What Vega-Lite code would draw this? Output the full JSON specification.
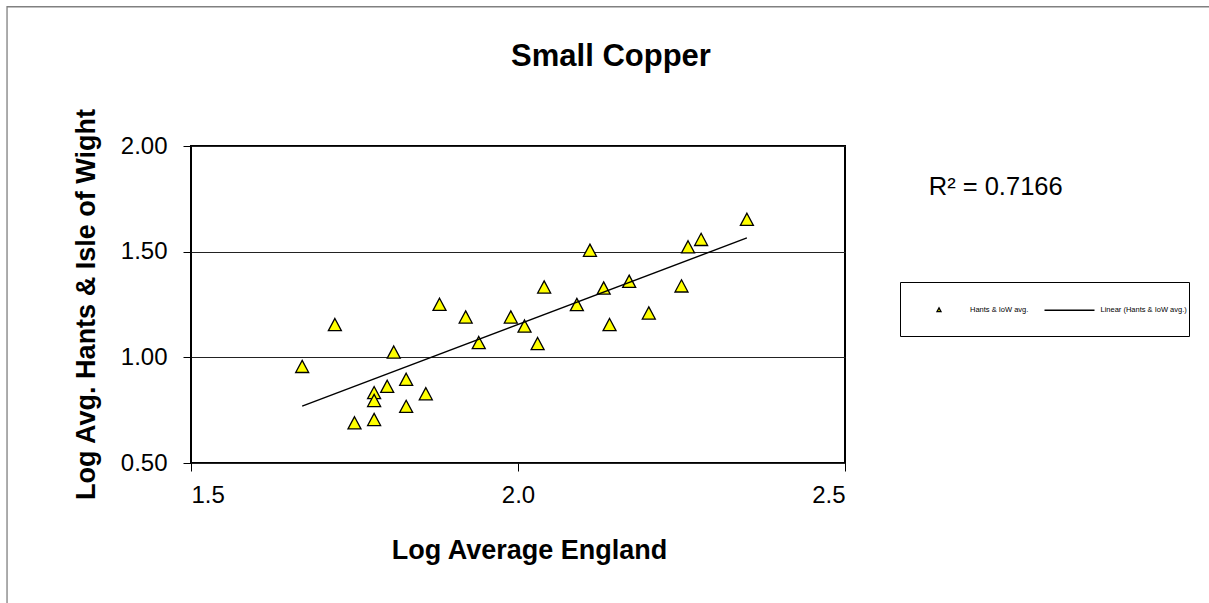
{
  "$schema": "https://vega.github.io/schema/vega-lite/v6.json",
  "width": 654,
  "height": 317,
  "autosize": {"type": "none"},
  "padding": {"left": 191, "top": 146, "right": 364, "bottom": 140},
  "background": "white",
  "title": {
    "text": "Small Copper",
    "font": "Liberation Sans",
    "fontSize": 31,
    "fontWeight": "bold",
    "color": "black",
    "anchor": "middle",
    "frame": "group",
    "baseline": "alphabetic",
    "dx": 93,
    "dy": 91,
    "offset": 0
  },
  "config": {
    "font": "Liberation Sans",
    "view": {"stroke": "black", "strokeWidth": 2},
    "axis": {
      "labelFont": "Liberation Sans",
      "titleFont": "Liberation Sans",
      "labelColor": "black",
      "titleColor": "black",
      "tickColor": "black",
      "domain": false
    }
  },
  "layer": [
    {
      "data": {"values": [{"frame": "chart area"}]},
      "mark": {"type": "rect", "fill": null, "stroke": "#808080", "strokeWidth": 1.3, "clip": false},
      "encoding": {
        "x": {"datum": 1.2187, "type": "quantitative"},
        "x2": {"datum": 3.3},
        "y": {"datum": 2.6588, "type": "quantitative"},
        "y2": {"datum": -0.3}
      }
    },
    {
      "data": {"name": "obs", "values": [
        {"logEngland": 1.670, "logHantsIoW": 0.957},
        {"logEngland": 1.720, "logHantsIoW": 1.155},
        {"logEngland": 1.750, "logHantsIoW": 0.690},
        {"logEngland": 1.780, "logHantsIoW": 0.833},
        {"logEngland": 1.780, "logHantsIoW": 0.796},
        {"logEngland": 1.780, "logHantsIoW": 0.706},
        {"logEngland": 1.800, "logHantsIoW": 0.863},
        {"logEngland": 1.810, "logHantsIoW": 1.025},
        {"logEngland": 1.829, "logHantsIoW": 0.896},
        {"logEngland": 1.829, "logHantsIoW": 0.768},
        {"logEngland": 1.859, "logHantsIoW": 0.828},
        {"logEngland": 1.880, "logHantsIoW": 1.251},
        {"logEngland": 1.920, "logHantsIoW": 1.191},
        {"logEngland": 1.940, "logHantsIoW": 1.070},
        {"logEngland": 1.989, "logHantsIoW": 1.191},
        {"logEngland": 2.010, "logHantsIoW": 1.148},
        {"logEngland": 2.030, "logHantsIoW": 1.065},
        {"logEngland": 2.040, "logHantsIoW": 1.333},
        {"logEngland": 2.090, "logHantsIoW": 1.250},
        {"logEngland": 2.110, "logHantsIoW": 1.507},
        {"logEngland": 2.131, "logHantsIoW": 1.328},
        {"logEngland": 2.140, "logHantsIoW": 1.155},
        {"logEngland": 2.170, "logHantsIoW": 1.360},
        {"logEngland": 2.200, "logHantsIoW": 1.210},
        {"logEngland": 2.250, "logHantsIoW": 1.338},
        {"logEngland": 2.260, "logHantsIoW": 1.523},
        {"logEngland": 2.280, "logHantsIoW": 1.558},
        {"logEngland": 2.350, "logHantsIoW": 1.653}
      ]},
      "mark": {
        "type": "point",
        "filled": true,
        "fill": "#FFFF00",
        "stroke": "black",
        "strokeWidth": 1.3,
        "size": 26400,
        "opacity": 1
      },
      "encoding": {
        "x": {
          "field": "logEngland",
          "type": "quantitative",
          "scale": {"domain": [1.5, 2.5], "nice": false, "zero": false},
          "axis": {
            "values": [1.5, 2.0, 2.5],
            "format": ".1f",
            "grid": false,
            "title": "Log Average England",
            "titleFontSize": 27,
            "titleFontWeight": "bold",
            "titleBaseline": "alphabetic",
            "titleX": 338,
            "titleY": 95,
            "titleAlign": "center",
            "labelFontSize": 24,
            "labelPadding": 12,
            "tickSize": 8,
            "tickWidth": 1
          }
        },
        "y": {
          "field": "logHantsIoW",
          "type": "quantitative",
          "scale": {"domain": [0.5, 2.0], "nice": false, "zero": false},
          "axis": {
            "values": [0.5, 1.0, 1.5, 2.0],
            "format": ".2f",
            "grid": true,
            "gridColor": "#222222",
            "gridWidth": 1,
            "title": "Log Avg. Hants & Isle of Wight",
            "titleFontSize": 27,
            "titleFontWeight": "bold",
            "titleAngle": -90,
            "titleBaseline": "alphabetic",
            "titleAlign": "center",
            "titleX": -97,
            "titleY": 158,
            "labelFontSize": 24,
            "labelPadding": 16,
            "tickSize": 8,
            "tickWidth": 1
          }
        },
        "shape": {
          "datum": "Hants & IoW avg.",
          "scale": {
            "domain": ["Hants & IoW avg.", "Linear (Hants & IoW avg.)"],
            "range": ["M0,-0.075L0.08,0.075L-0.08,0.075Z", "M-1,0L1,0"]
          },
          "legend": {
            "orient": "none",
            "legendX": 709,
            "legendY": 136,
            "direction": "horizontal",
            "title": " ",
            "titleOrient": "bottom",
            "titleFontSize": 16,
            "titlePadding": 4,
            "strokeColor": "black",
            "padding": 1.5,
            "labelFont": "Liberation Sans",
            "labelFontSize": 7.5,
            "labelColor": "black",
            "labelOffset": 5,
            "symbolOffset": 11.5,
            "columnPadding": 3.5,
            "symbolSize": 2500,
            "symbolStrokeWidth": 1.3
          }
        }
      }
    },
    {
      "data": {"name": "obs"},
      "transform": [
        {"regression": "logHantsIoW", "on": "logEngland", "extent": [1.67, 2.35]}
      ],
      "mark": {"type": "line", "color": "black", "strokeWidth": 1.4},
      "encoding": {
        "x": {"field": "logEngland", "type": "quantitative"},
        "y": {"field": "logHantsIoW", "type": "quantitative"}
      }
    },
    {
      "data": {"values": [{"label": "R² = 0.7166"}]},
      "mark": {
        "type": "text",
        "align": "left",
        "baseline": "alphabetic",
        "fontSize": 25.5,
        "font": "Liberation Sans",
        "color": "black",
        "clip": false
      },
      "encoding": {
        "x": {"datum": 2.628, "type": "quantitative"},
        "y": {"datum": 1.768, "type": "quantitative"},
        "text": {"field": "label", "type": "nominal"}
      }
    }
  ]
}
